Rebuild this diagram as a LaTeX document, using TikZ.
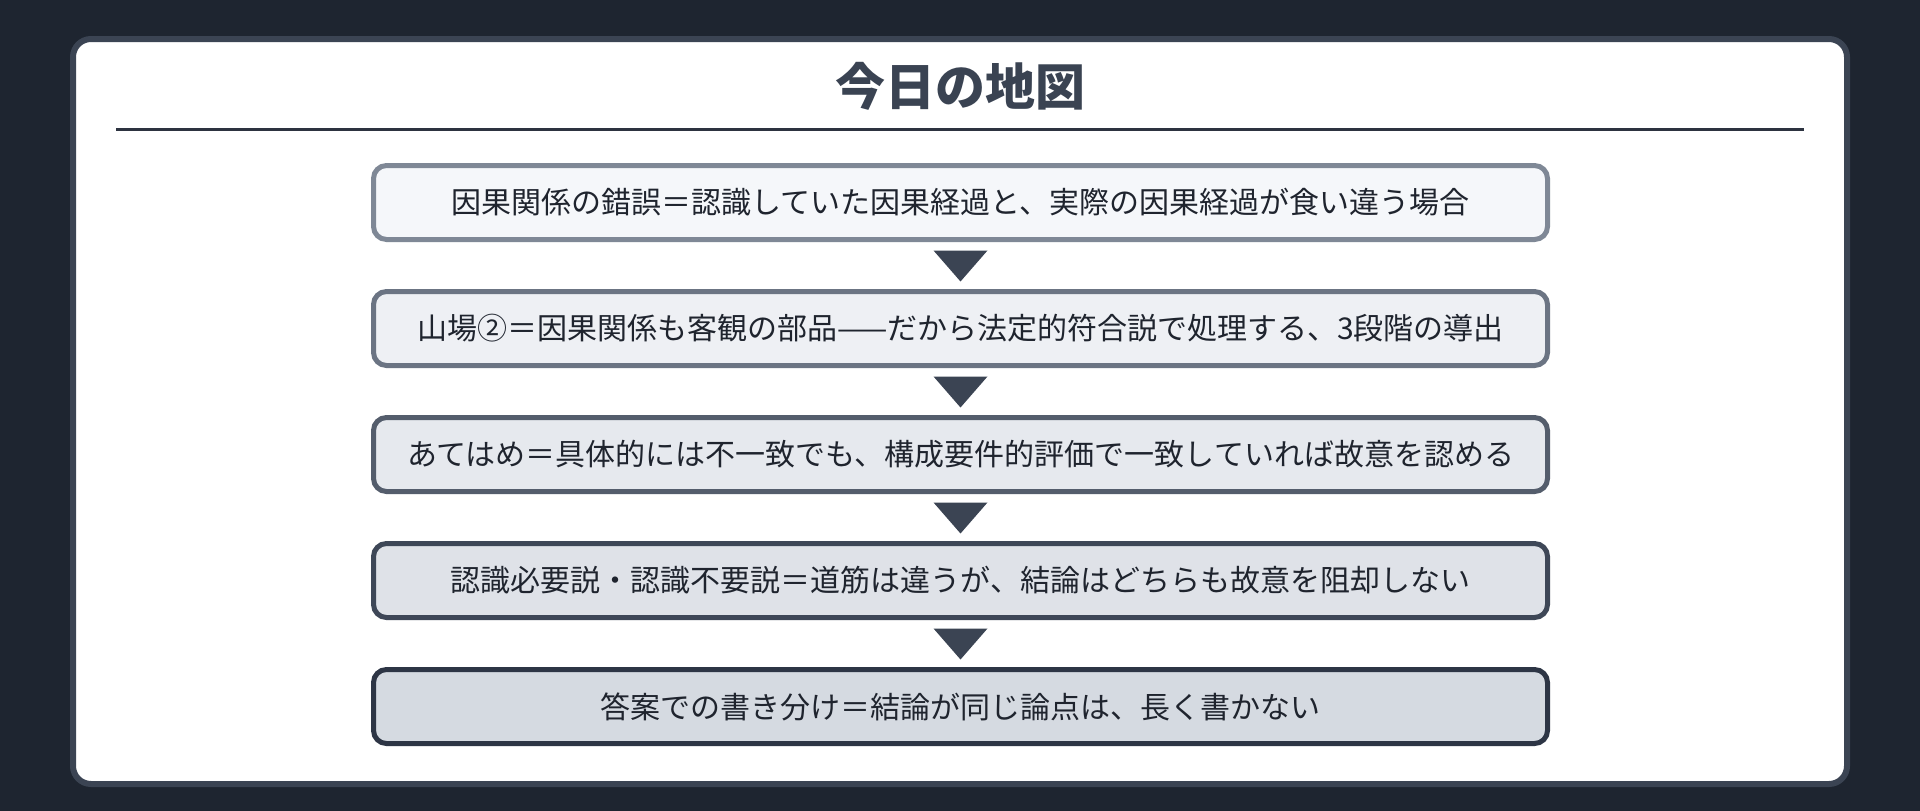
\documentclass[tikz,border=0pt]{standalone}
\usepackage{fontspec}
\setmainfont{Noto Sans CJK JP}
\usepackage{xcolor}
\usepackage{tikz}
\usetikzlibrary{calc,shapes,backgrounds,positioning}
\definecolor{nightbg}{RGB}{30,37,48}
\definecolor{cardedge}{RGB}{59,68,83}
\definecolor{ruleline}{RGB}{45,51,64}
\definecolor{titleink}{RGB}{58,67,82}
\definecolor{textink}{RGB}{31,36,46}
\definecolor{fillA}{RGB}{245,247,250}
\definecolor{fillB}{RGB}{238,240,244}
\definecolor{fillC}{RGB}{230,233,238}
\definecolor{fillD}{RGB}{223,226,232}
\definecolor{fillE}{RGB}{213,218,225}
\definecolor{edgeA}{RGB}{127,136,150}
\definecolor{edgeB}{RGB}{107,116,131}
\definecolor{edgeC}{RGB}{84,93,108}
\definecolor{edgeD}{RGB}{62,71,87}
\definecolor{edgeE}{RGB}{45,53,69}
\definecolor{tipink}{RGB}{59,68,83}

\begin{document}
\begin{tikzpicture}[x=1pt,y=-1pt]
          \fill[nightbg] (0,0) rectangle (1920,811);
          \useasboundingbox (0,0) rectangle (1920,811);
          \tikzstyle{every node}=[text=textink, font=\fontsize{30}{36}\selectfont]
          \tikzstyle{stage}=[draw, line width=5pt, rounded corners=13pt, minimum width=1174pt, minimum height=74pt, inner sep=0pt]
          \tikzstyle{tip}=[fill=tipink]

          % card
          \draw[cardedge, fill=white, line width=6pt, rounded corners=18pt] (73,39) rectangle (1847,784);
          \node[text=titleink, font=\fontsize{50}{60}\selectfont\bfseries] (title) at (960,86) {今日の地図};
          \coordinate (RL) at (116,129);
          \coordinate (RR) at (1804,129);
          \draw[ruleline, line width=3pt] (RL) -- (RR);

          % stages
          \node[stage, draw=edgeA, fill=fillA] (S1) at (960.5,202.5) {因果関係の錯誤＝認識していた因果経過と、実際の因果経過が食い違う場合};
          \node[stage, draw=edgeB, fill=fillB] (S2) at (960.5,328.5) {山場②＝因果関係も客観の部品——だから法定的符合説で処理する、3段階の導出};
          \node[stage, draw=edgeC, fill=fillC] (S3) at (960.5,454.5) {あてはめ＝具体的には不一致でも、構成要件的評価で一致していれば故意を認める};
          \node[stage, draw=edgeD, fill=fillD] (S4) at (960.5,580.5) {認識必要説・認識不要説＝道筋は違うが、結論はどちらも故意を阻却しない};
          \node[stage, draw=edgeE, fill=fillE] (S5) at (960.5,706.5) {答案での書き分け＝結論が同じ論点は、長く書かない};

          % down tips
          \fill[tip] ($(S1.south)!0.5!(S2.north)+(-27,-15)$) -- ++(54,0) -- ++(-27,31) -- cycle;
          \fill[tip] ($(S2.south)!0.5!(S3.north)+(-27,-15)$) -- ++(54,0) -- ++(-27,31) -- cycle;
          \fill[tip] ($(S3.south)!0.5!(S4.north)+(-27,-15)$) -- ++(54,0) -- ++(-27,31) -- cycle;
          \fill[tip] ($(S4.south)!0.5!(S5.north)+(-27,-15)$) -- ++(54,0) -- ++(-27,31) -- cycle;
\end{tikzpicture}
\end{document}
